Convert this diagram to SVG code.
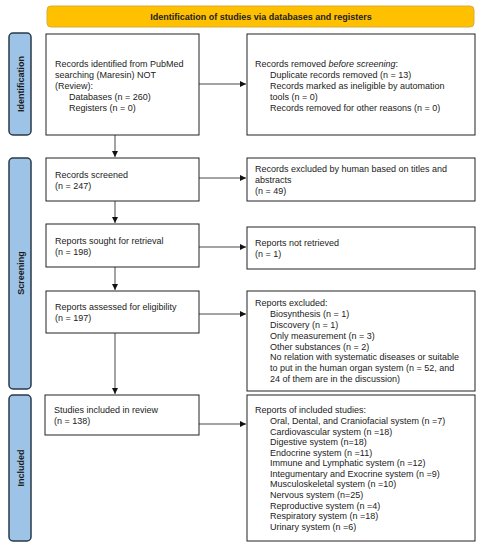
<svg xmlns="http://www.w3.org/2000/svg" width="484" height="550" viewBox="0 0 484 550">
<style>
text{font-family:"Liberation Sans",Arial,sans-serif;font-size:9px;fill:#222}
.b{fill:#fff;stroke:#222;stroke-width:1}
.side{fill:#9DC3E6;stroke:#2B3A4A;stroke-width:1.5}
.sl{font-weight:bold;font-size:9px;text-anchor:middle;fill:#1a1a1a}
.c{stroke:#333;stroke-width:0.9;fill:none}
</style>
<defs>
<marker id="ah" viewBox="0 0 10 10" refX="10" refY="5" markerWidth="6" markerHeight="6" orient="auto" markerUnits="userSpaceOnUse">
<path d="M0,0 L10,5 L0,10 z" fill="#111"/>
</marker>
</defs>
<rect width="484" height="550" fill="#fff"/>
<g id="header">
<rect x="47" y="6" width="427" height="21" rx="4" fill="#FFC000" stroke="#D8AE3A" stroke-width="1"/>
<text x="261" y="20" text-anchor="middle" font-weight="bold">Identification of studies via databases and registers</text>
</g>
<g id="side-identification">
<rect class="side" x="9" y="33" width="22" height="102" rx="4"/>
<text class="sl" transform="translate(23.5,84) rotate(-90)">Identification</text>
</g>
<g id="side-screening">
<rect class="side" x="9" y="158" width="22" height="231" rx="4"/>
<text class="sl" transform="translate(23.5,273) rotate(-90)">Screening</text>
</g>
<g id="side-included">
<rect class="side" x="9" y="395" width="22" height="146" rx="4"/>
<text class="sl" transform="translate(23.5,468) rotate(-90)">Included</text>
</g>
<g id="connectors">
<line class="c" x1="199" y1="84" x2="246" y2="84" marker-end="url(#ah)"/>
<line class="c" x1="115" y1="135" x2="115" y2="157" marker-end="url(#ah)"/>
<line class="c" x1="199" y1="178" x2="246" y2="178" marker-end="url(#ah)"/>
<line class="c" x1="115" y1="201" x2="115" y2="223" marker-end="url(#ah)"/>
<line class="c" x1="199" y1="247" x2="246" y2="247" marker-end="url(#ah)"/>
<line class="c" x1="115" y1="267" x2="115" y2="290" marker-end="url(#ah)"/>
<line class="c" x1="199" y1="314" x2="246" y2="314" marker-end="url(#ah)"/>
<line class="c" x1="115" y1="333" x2="115" y2="394" marker-end="url(#ah)"/>
<line class="c" x1="199" y1="424" x2="246" y2="424" marker-end="url(#ah)"/>
</g>
<g id="records-identified">
<rect class="b" x="46" y="34" width="153" height="101"/>
<text x="55" y="67">Records identified from PubMed</text>
<text x="55" y="78">searching (Maresin) NOT</text>
<text x="55" y="89">(Review):</text>
<text x="69" y="100">Databases (n = 260)</text>
<text x="69" y="111">Registers (n = 0)</text>
</g>
<g id="records-removed">
<rect class="b" x="247" y="34" width="228" height="101"/>
<text x="255" y="67">Records removed <tspan font-style="italic">before screening</tspan>:</text>
<text x="270" y="78">Duplicate records removed (n = 13)</text>
<text x="270" y="89">Records marked as ineligible by automation</text>
<text x="270" y="100">tools (n = 0)</text>
<text x="270" y="111">Records removed for other reasons (n = 0)</text>
</g>
<g id="records-screened">
<rect class="b" x="46" y="158" width="153" height="43"/>
<text x="55" y="178">Records screened</text>
<text x="55" y="189">(n = 247)</text>
</g>
<g id="records-excluded">
<rect class="b" x="247" y="158" width="228" height="43"/>
<text x="255" y="172">Records excluded by human based on titles and</text>
<text x="255" y="183">abstracts</text>
<text x="255" y="194">(n = 49)</text>
</g>
<g id="reports-sought">
<rect class="b" x="46" y="224" width="153" height="43"/>
<text x="55" y="244">Reports sought for retrieval</text>
<text x="55" y="255">(n = 198)</text>
</g>
<g id="reports-not-retrieved">
<rect class="b" x="247" y="227" width="228" height="42"/>
<text x="255" y="246">Reports not retrieved</text>
<text x="255" y="257">(n = 1)</text>
</g>
<g id="reports-assessed">
<rect class="b" x="46" y="291" width="153" height="42"/>
<text x="55" y="310">Reports assessed for eligibility</text>
<text x="55" y="321">(n = 197)</text>
</g>
<g id="reports-excluded">
<rect class="b" x="247" y="291" width="228" height="100"/>
<text x="255" y="306">Reports excluded:</text>
<text x="270" y="317">Biosynthesis (n = 1)</text>
<text x="270" y="328">Discovery (n = 1)</text>
<text x="270" y="339">Only measurement (n = 3)</text>
<text x="270" y="350">Other substances (n = 2)</text>
<text x="270" y="360">No relation with systematic diseases or suitable</text>
<text x="270" y="371">to put in the human organ system (n = 52, and</text>
<text x="270" y="382">24 of them are in the discussion)</text>
</g>
<g id="studies-included">
<rect class="b" x="45" y="395" width="154" height="40"/>
<text x="54" y="413">Studies included in review</text>
<text x="54" y="424">(n = 138)</text>
</g>
<g id="reports-included">
<rect class="b" x="247" y="395" width="228" height="146"/>
<text x="255" y="413">Reports of included studies:</text>
<text x="270" y="424">Oral, Dental, and Craniofacial system (n =7)</text>
<text x="270" y="435">Cardiovascular system (n =18)</text>
<text x="270" y="445">Digestive system (n=18)</text>
<text x="270" y="456">Endocrine system (n =11)</text>
<text x="270" y="466">Immune and Lymphatic system (n =12)</text>
<text x="270" y="477">Integumentary and Exocrine system (n =9)</text>
<text x="270" y="487">Musculoskeletal system (n =10)</text>
<text x="270" y="498">Nervous system (n=25)</text>
<text x="270" y="509">Reproductive system (n =4)</text>
<text x="270" y="519">Respiratory system (n =18)</text>
<text x="270" y="530">Urinary system (n =6)</text>
</g>
</svg>
